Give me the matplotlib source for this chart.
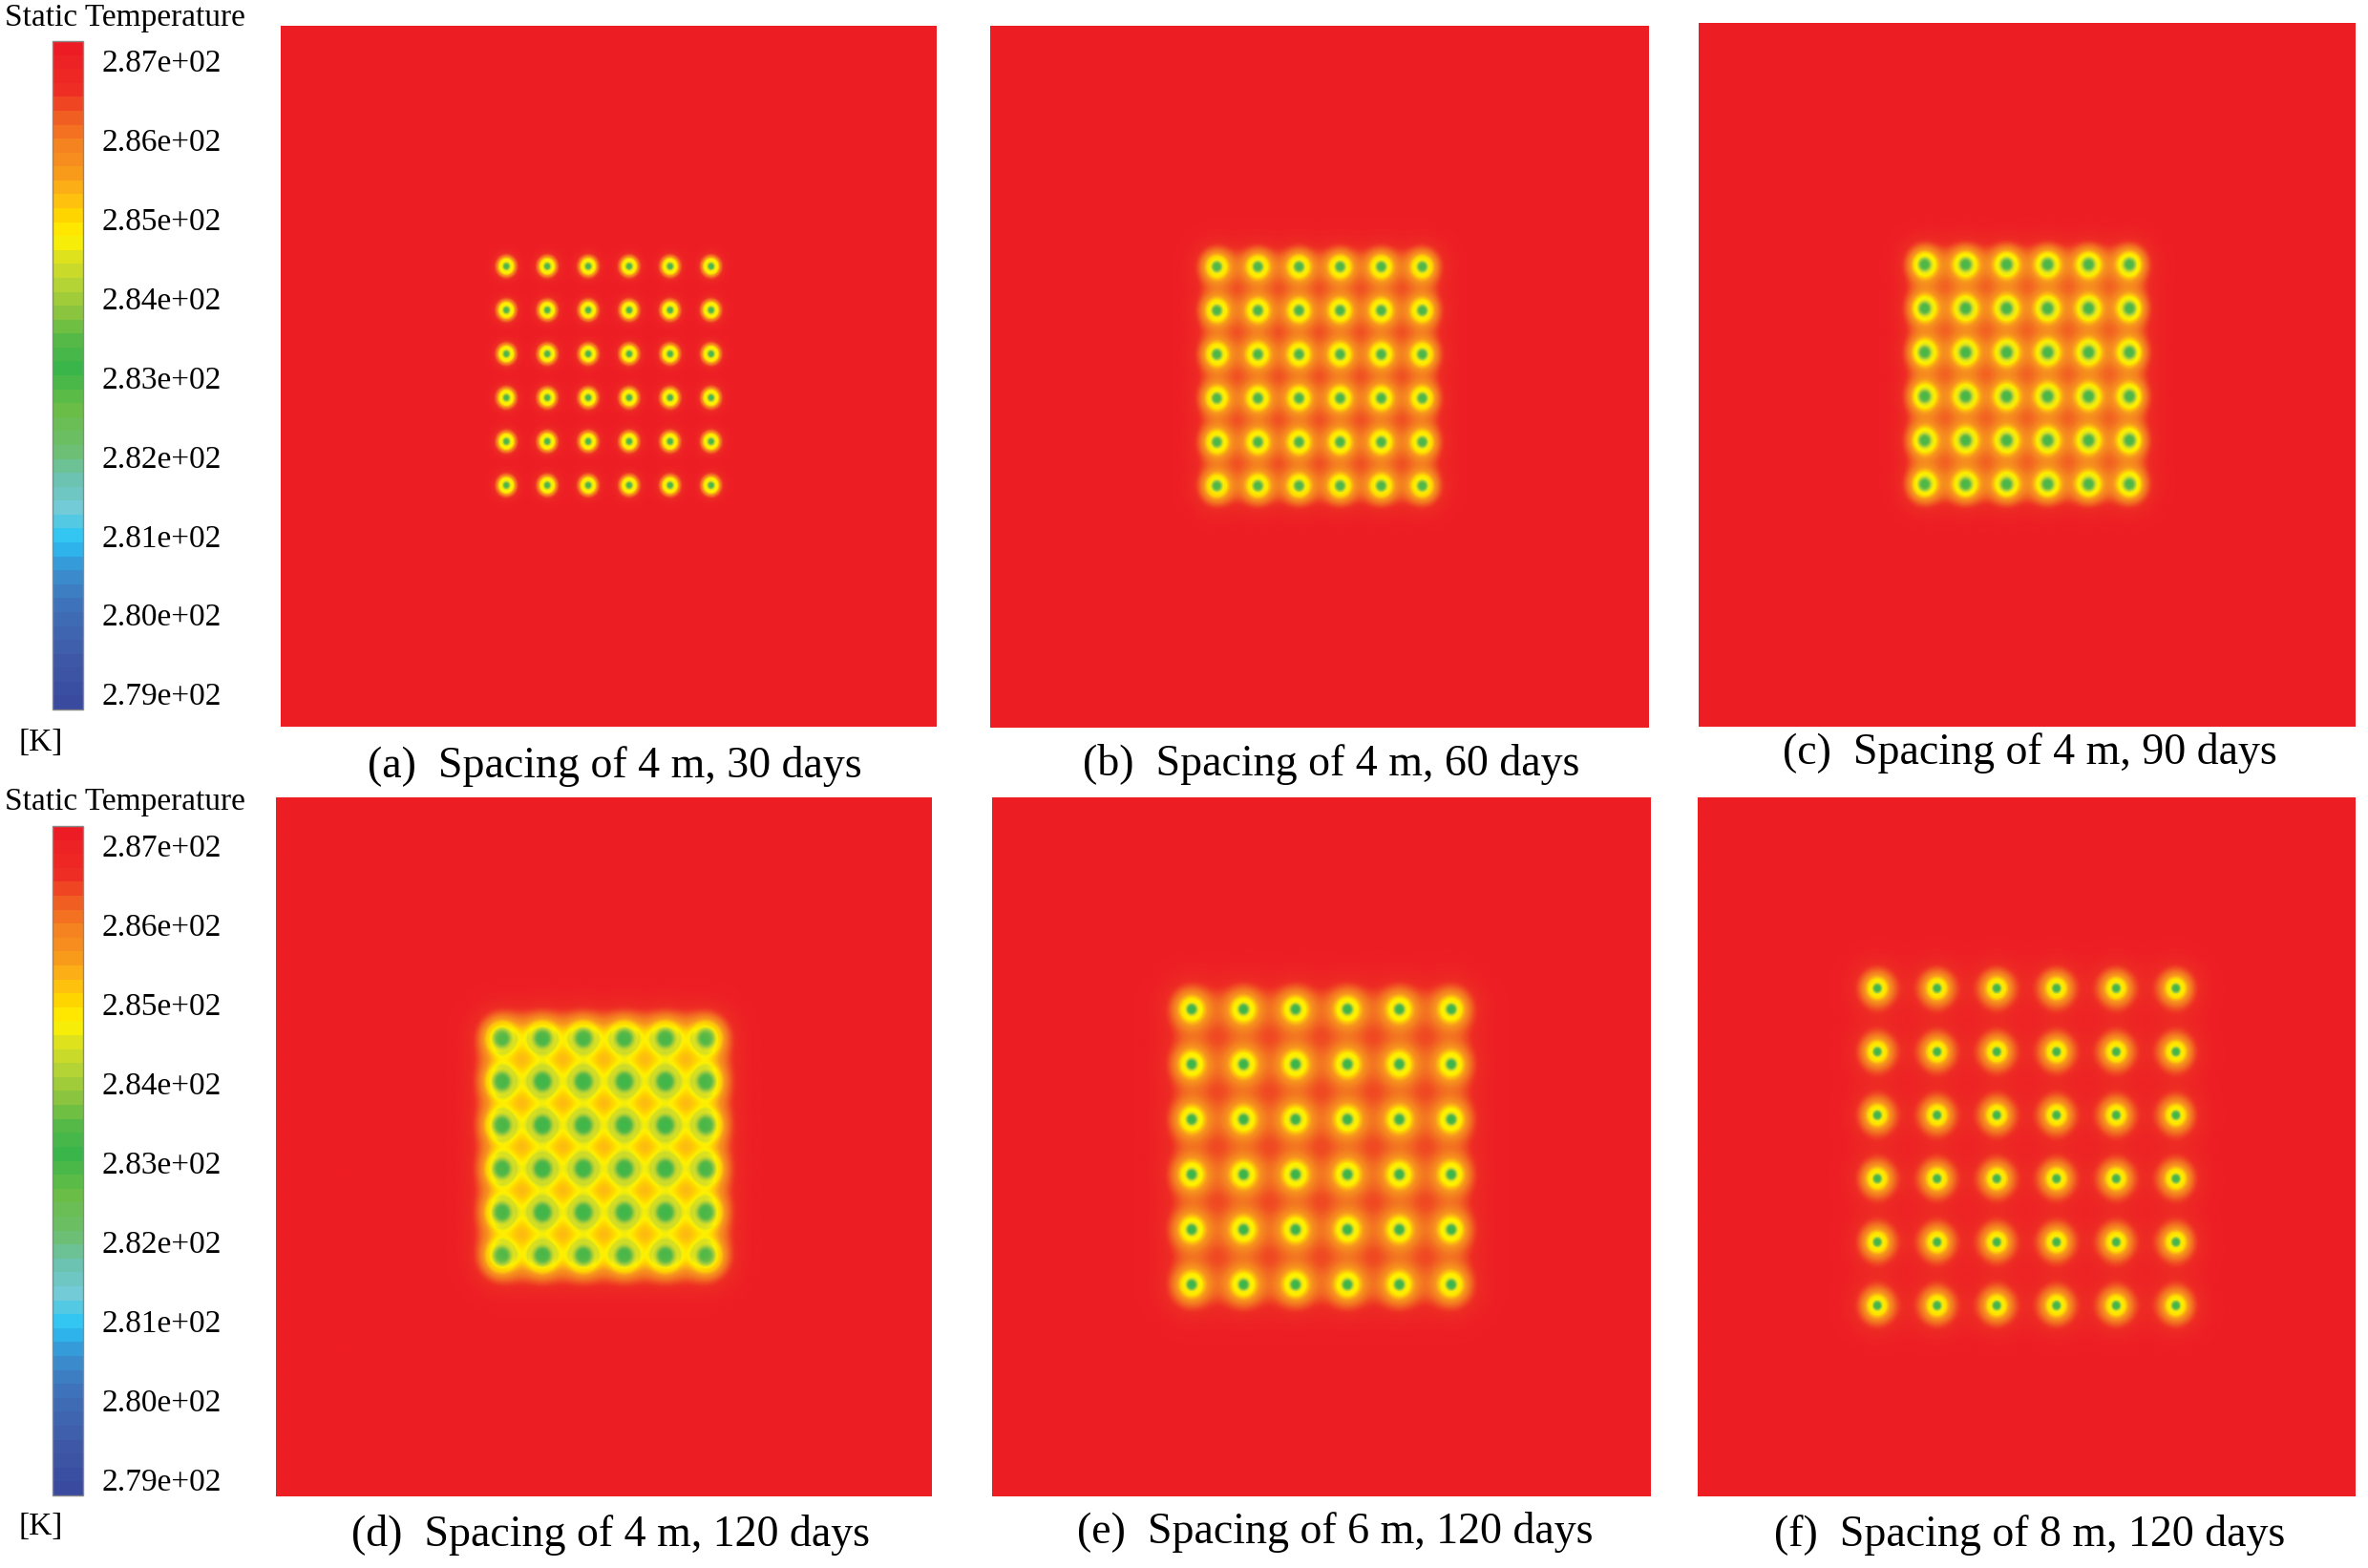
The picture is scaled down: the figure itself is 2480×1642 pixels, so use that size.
import numpy as np
import matplotlib
matplotlib.use("Agg")
import matplotlib.pyplot as plt
from matplotlib.colors import LinearSegmentedColormap, Normalize
from matplotlib.cm import ScalarMappable

# ---- data -------------------------------------------------------------
panel_tags = ['(a)', '(b)', '(c)', '(d)', '(e)', '(f)']
spacing_m = [4, 4, 4, 4, 6, 8]
days = [30, 60, 90, 120, 120, 120]
domain_m = [64, 64, 64, 64, 76, 88]
n_wells = 6  # 6 x 6 borehole array

# cooling around each borehole (K): cold core + line-source interaction term
core_amp = [1.5, 1.6, 1.5, 1.55, 1.7, 1.7]
core_len = [0.345, 0.54, 0.63, 0.95, 0.63, 0.63]
line_amp = [3.24, 1.4, 1.6, 1.75, 1.2, 1.2]
line_len = [1.1, 2.5, 2.5, 3.0, 3.8, 3.8]
ring_r = [0.68, 0.93, 1.0, 1.45, 1.16, 1.16]
t_ground = 287.2

cbar_ticks = [287, 286, 285, 284, 283, 282, 281, 280, 279]
t_min, t_max = 278.8, 287.25

cmap_values = [287.25, 286.7, 286.3, 286.0, 285.7, 285.35, 285.1, 284.8, 284.5,
               284.2, 283.85, 283.5, 283.1, 282.6, 282.1, 281.7, 281.3, 280.9,
               280.5, 280.0, 279.4, 278.8]
cmap_colors = ['#ed1c24', '#ee2d24', '#f26522', '#f58220', '#f7941d', '#fdb913',
               '#ffd400', '#fff200', '#d7df23', '#b5d334', '#8dc63f', '#57b947',
               '#39b54a', '#6abd45', '#6dbe6b', '#6cc3b0', '#72cbd8', '#29c5f6',
               '#3a8fd0', '#3f6fb8', '#3f5aa8', '#3a4a9f']

# ---- helpers ----------------------------------------------------------
W, H = 2480, 1642
plt.rcParams['font.family'] = ['Liberation Serif', 'DejaVu Serif']

stops = (np.array(cmap_values[::-1]) - t_min) / (t_max - t_min)
cmap = LinearSegmentedColormap.from_list('fluent', list(zip(stops, cmap_colors[::-1])))
norm = Normalize(t_min, t_max)

# exponential integral E1 from a lookup table
lt = np.linspace(np.log(1e-7), np.log(60.0), 6000)
fint = np.exp(-np.exp(lt))
seg = 0.5 * (fint[1:] + fint[:-1]) * np.diff(lt)
e1_tab = np.concatenate([np.cumsum(seg[::-1])[::-1], [0.0]])


def e1(u):
    return np.interp(np.log(np.clip(u, 1e-7, 60.0)), lt, e1_tab)


def box(x0, y0, x1, y1):
    return [x0 / W, 1 - y1 / H, (x1 - x0) / W, (y1 - y0) / H]


panel_px = [(294, 27, 981, 761), (1037, 27, 1726, 762), (1779, 24, 2467, 761),
            (289, 835, 976, 1567), (1039, 835, 1729, 1567), (1778, 835, 2467, 1567)]
caption_px = [(644, 802), (1394, 800), (2126, 789),
              (640, 1607), (1398, 1604), (2126, 1607)]

fig = plt.figure(figsize=(W / 100, H / 100), dpi=100)
fig.patch.set_facecolor('white')

for i in range(6):
    D = domain_m[i]
    s = spacing_m[i]
    g = np.linspace(0, D, 640)
    X, Y = np.meshgrid(g, g)
    centers = D / 2 + (np.arange(n_wells) - (n_wells - 1) / 2) * s
    dT = np.zeros_like(X)
    for cx in centers:
        for cy in centers:
            r2 = (X - cx) ** 2 + (Y - cy) ** 2
            dT += core_amp[i] * np.exp(-(r2 / core_len[i] ** 2) ** 2)
            dT += line_amp[i] * e1(np.maximum(r2, ring_r[i] ** 2) / line_len[i] ** 2)
    T = np.clip(t_ground - dT, t_min, t_max)

    ax = fig.add_axes(box(*panel_px[i]))
    ax.imshow(T, cmap=cmap, norm=norm, origin='lower', extent=[0, D, 0, D],
              aspect='auto', interpolation='bilinear')
    ax.set_axis_off()

    cx, cy = caption_px[i]
    fig.text(cx / W, 1 - cy / H,
             f'{panel_tags[i]}  Spacing of {s} m, {days[i]} days',
             ha='center', va='center', fontsize=33)

# colour legends (banded like the solver's legend)
bar_cmap = cmap.resampled(48)
for top, bot, title_y, k_y in [(43, 743, 19, 778), (865, 1566, 840, 1599)]:
    cax = fig.add_axes(box(55, top, 87, bot))
    cb = fig.colorbar(ScalarMappable(norm=norm, cmap=bar_cmap), cax=cax, ticks=cbar_ticks)
    cb.ax.set_yticklabels([f'{v:.2e}' for v in cbar_ticks], fontsize=24)
    cb.ax.yaxis.set_tick_params(length=0, pad=14)
    cb.outline.set_edgecolor('#888888')
    cb.outline.set_linewidth(1.0)
    fig.text(5 / W, 1 - title_y / H, 'Static Temperature', ha='left', va='center',
             fontsize=24)
    fig.text(19 / W, 1 - k_y / H, '[K]', ha='left', va='center', fontsize=24)

fig.savefig('out.png', dpi=100, facecolor='white')
